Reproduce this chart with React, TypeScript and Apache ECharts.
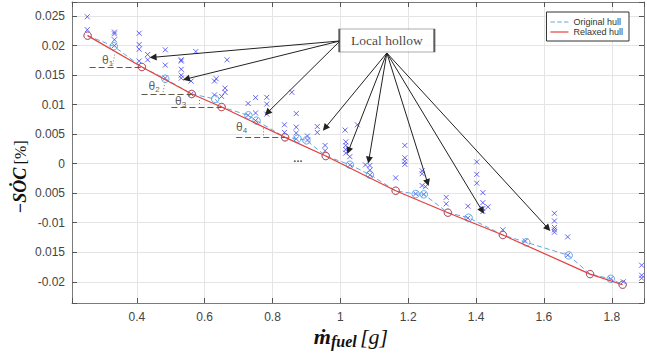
import React, { useEffect, useRef } from "react";
import * as echarts from "echarts";

// ---- data ----
const xTickValues = [0.4, 0.6, 0.8, 1.0, 1.2, 1.4, 1.6, 1.8];
const xTickLabels = ["0.4", "0.6", "0.8", "1", "1.2", "1.4", "1.6", "1.8"];
const yTickValues = [0.025, 0.02, 0.015, 0.01, 0.005, 0, -0.005, -0.01, -0.015, -0.02];
const yTickLabels = ["0.025", "0.02", "0.015", "0.01", "0.005", "0", "0.005", "-0.01", "0.015", "-0.02"];

const samplePoints: [number, number][] = [
  [0.254, 0.0249], [0.254, 0.0227],
  [0.334, 0.0223], [0.334, 0.022], [0.334, 0.021], [0.334, 0.02],
  [0.407, 0.0221], [0.407, 0.0202], [0.407, 0.0194], [0.407, 0.0174],
  [0.432, 0.0185], [0.432, 0.0176],
  [0.484, 0.0193], [0.484, 0.0167], [0.484, 0.0145],
  [0.531, 0.0176], [0.531, 0.0174], [0.531, 0.016], [0.531, 0.015], [0.531, 0.0145],
  [0.56, 0.014], [0.56, 0.0118],
  [0.574, 0.019],
  [0.629, 0.014], [0.629, 0.01165],
  [0.634, 0.0144],
  [0.65, 0.0114],
  [0.66, 0.0128], [0.66, 0.0121],
  [0.666, 0.0176],
  [0.728, 0.0102], [0.728, 0.0082],
  [0.75, 0.0112], [0.75, 0.0086], [0.75, 0.0073],
  [0.783, 0.01125], [0.783, 0.0101], [0.783, 0.0084],
  [0.857, 0.0121],
  [0.835, 0.0066], [0.835, 0.0053],
  [0.87, 0.0085], [0.87, 0.0062], [0.87, 0.0052], [0.87, 0.0042],
  [0.903, 0.0047], [0.903, 0.004],
  [0.932, 0.0063], [0.932, 0.0053],
  [0.955, 0.0031], [0.955, 0.0022],
  [1.014, 0.0057],
  [1.05, 0.0066],
  [1.016, 0.0037], [1.016, 0.0031], [1.016, 0.0024], [1.016, 0.0018],
  [1.028, 0.0012], [1.028, -0.0002],
  [1.074, -0.0002],
  [1.087, -0.0003], [1.087, -0.0011], [1.087, -0.0019],
  [1.19, 0.0031], [1.19, 0.001], [1.19, 0.0004], [1.19, -0.0001],
  [1.163, -0.0024],
  [1.241, -0.0012], [1.241, -0.0017], [1.241, -0.0037],
  [1.251, -0.0039],
  [1.222, -0.0051],
  [1.246, -0.0052],
  [1.312, -0.0057], [1.312, -0.0068],
  [1.376, -0.0072], [1.376, -0.0092],
  [1.402, 0.0003], [1.402, -0.0018], [1.402, -0.0033],
  [1.42, -0.0049], [1.42, -0.0066], [1.42, -0.0076], [1.42, -0.0081],
  [1.435, -0.0073],
  [1.479, -0.0112],
  [1.545, -0.0131],
  [1.631, -0.0084], [1.631, -0.0097], [1.631, -0.0108], [1.631, -0.0112], [1.631, -0.0116],
  [1.67, -0.0124], [1.67, -0.0155],
  [1.797, -0.0195],
  [1.834, -0.02],
  [1.888, -0.0172], [1.888, -0.0189], [1.888, -0.0194],
];

const originalHull: [number, number][] = [
  [0.255, 0.0217], [0.332, 0.0199], [0.415, 0.01639], [0.484, 0.0144], [0.562, 0.01181],
  [0.631, 0.01097], [0.65, 0.00961], [0.729, 0.0082], [0.753, 0.0073], [0.837, 0.00447],
  [0.874, 0.00424], [0.9, 0.00396], [0.957, 0.0013], [1.028, -0.00017], [1.087, -0.00186],
  [1.163, -0.00458], [1.222, -0.00514], [1.246, -0.00519], [1.317, -0.0083], [1.378, -0.00915],
  [1.479, -0.01208], [1.548, -0.01332], [1.673, -0.01553], [1.736, -0.0187], [1.797, -0.0195],
  [1.832, -0.0205],
];

const relaxedHull: [number, number][] = [
  [0.255, 0.0217], [0.415, 0.01639], [0.562, 0.01181], [0.65, 0.00961], [0.837, 0.00447],
  [0.957, 0.0013], [1.163, -0.00458], [1.317, -0.0083], [1.479, -0.01208], [1.736, -0.0187],
  [1.832, -0.0205],
];

// annotation anchors (data coordinates)
const hollowBoxCenter: [number, number] = [1.137, 0.02088];
const hollowLeftOrigin: [number, number] = [0.999, 0.0208];
const hollowBottomOrigin: [number, number] = [1.137, 0.01876];
const hollowTargetsLeft: [number, number][] = [[0.448, 0.01803], [0.546, 0.01436], [0.785, 0.00864]];
const hollowTargetsBottom: [number, number][] = [
  [0.955, 0.00605], [1.024, 0.0022], [1.084, 0.00063], [1.257, -0.00322], [1.418, -0.00797], [1.612, -0.01095],
];
// horizontal reference lines for slope angles: [xStart, xEnd, y]
const angleBaseLines: [number, number, number][] = [
  [0.261, 0.415, 0.01639],
  [0.414, 0.562, 0.01181],
  [0.502, 0.65, 0.00961],
  [0.693, 0.837, 0.00447],
];
const angleArcs: [number, number, number, number][] = [
  [0.335, 0.0185, 0.328, 0.0166],
  [0.483, 0.0138, 0.477, 0.012],
  [0.584, 0.0108, 0.584, 0.0098],
  [0.774, 0.006, 0.774, 0.0046],
];
const angleLabelPos: [number, number][] = [[0.314, 0.01758], [0.451, 0.01317], [0.529, 0.01071], [0.709, 0.00614]];
const angleSubscripts = ["1", "2", "3", "4"];
const ellipsisPos: [number, number] = [0.875, 0.00097];

const fmt = (vals: number[], labels: string[]) => (v: number) => {
  const i = vals.findIndex((t) => Math.abs(t - v) < 1e-9);
  return i >= 0 ? labels[i] : "";
};

export default function App() {
  const ref = useRef<HTMLDivElement>(null);
  useEffect(() => {
    if (!ref.current) return;
    const chart = echarts.init(ref.current, undefined, { renderer: "svg" });
    const axisColor = "#7a7a7a";
    const serif = "Liberation Serif, Times New Roman, serif";
    const labelStyle = { color: "#444", fontSize: 12, fontFamily: "Liberation Sans, Arial, sans-serif" };
    const xBase = { type: "value", min: 0.209, max: 1.895, minInterval: 0.2, maxInterval: 0.2 };
    const yBase = { type: "value", min: -0.0236, max: 0.0274, minInterval: 0.005, maxInterval: 0.005 };
    const hullBlue = "#3d9ae2";
    const hullLine = "#6aa6de";
    const red = "#e2403b";
    const option: any = {
      animation: false,
      backgroundColor: "#fff",
      grid: { left: 72, right: 2, top: 2, bottom: 55, containLabel: false },
      xAxis: [
        {
          ...xBase,
          position: "bottom",
          axisLine: { show: true, onZero: false, lineStyle: { color: axisColor } },
          axisTick: { show: true, inside: true, length: 5, lineStyle: { color: "#555" } },
          axisLabel: { ...labelStyle, margin: 8, formatter: fmt(xTickValues, xTickLabels) },
          splitLine: { show: true, lineStyle: { color: "#e4e4e4", width: 1 } },
        },
        {
          ...xBase,
          position: "top",
          axisLine: { show: true, onZero: false, lineStyle: { color: axisColor } },
          axisTick: { show: true, inside: true, length: 5, lineStyle: { color: "#555" } },
          axisLabel: { show: false },
          splitLine: { show: false },
        },
      ],
      yAxis: [
        {
          ...yBase,
          position: "left",
          axisLine: { show: true, onZero: false, lineStyle: { color: axisColor } },
          axisTick: { show: true, inside: true, length: 5, lineStyle: { color: "#555" } },
          axisLabel: { ...labelStyle, margin: 7, formatter: fmt(yTickValues, yTickLabels) },
          splitLine: { show: true, lineStyle: { color: "#e4e4e4", width: 1 } },
        },
        {
          ...yBase,
          position: "right",
          axisLine: { show: true, onZero: false, lineStyle: { color: axisColor } },
          axisTick: { show: true, inside: true, length: 5, lineStyle: { color: "#555" } },
          axisLabel: { show: false },
          splitLine: { show: false },
        },
      ],
      legend: {
        data: [
          {
            name: "Original hull",
            icon: "path://M0,0H4.5V1.2H0Z M6.75,0H11.25V1.2H6.75Z M13.5,0H18V1.2H13.5Z",
            itemStyle: { color: hullLine, borderWidth: 0 },
          },
          {
            name: "Relaxed hull",
            icon: "path://M0,0H18V1.2H0Z",
            itemStyle: { color: red, borderWidth: 0 },
          },
        ],
        orient: "vertical",
        right: 18,
        top: 12,
        itemWidth: 18,
        itemHeight: 1.2,
        itemGap: 0,
        padding: [5, 6, 4, 4],
        borderColor: "#333",
        borderWidth: 1,
        borderRadius: 0,
        backgroundColor: "#fff",
        textStyle: { fontSize: 9, color: "#333", fontFamily: "Liberation Sans, Arial, sans-serif", lineHeight: 10 },
      },
      graphic: [
        {
          type: "text",
          x: 20,
          y: 177,
          rotation: Math.PI / 2,
          style: {
            text: "{a|−SȮC} {b|[%]}",
            align: "center",
            verticalAlign: "middle",
            rich: {
              a: { fontSize: 18, fontWeight: "bold", fontStyle: "italic", fontFamily: serif, fill: "#111" },
              b: { fontSize: 16, fontFamily: serif, fill: "#111" },
            },
          },
        },
        {
          type: "text",
          x: 351,
          y: 336,
          style: {
            text: "{m|ṁ}{s|fuel} {g|[g]}",
            align: "center",
            verticalAlign: "middle",
            rich: {
              m: { fontSize: 22, fontWeight: "bold", fontStyle: "italic", fontFamily: serif, fill: "#111" },
              s: { fontSize: 16, fontWeight: "bold", fontStyle: "italic", fontFamily: serif, fill: "#111", padding: [10, 0, 0, 0] },
              g: { fontSize: 22, fontStyle: "italic", fontFamily: serif, fill: "#111" },
            },
          },
        },
      ],
      series: [
        {
          name: "samples",
          type: "scatter",
          data: samplePoints,
          symbol: "path://M0,0L10,10M10,0L0,10",
          symbolSize: 5,
          itemStyle: { color: "rgba(0,0,0,0)", borderColor: "#4040f0", borderWidth: 1 },
          z: 2,
        },
        {
          name: "Original hull",
          type: "line",
          data: originalHull,
          symbol: "none",
          lineStyle: { color: hullLine, width: 1, type: [5, 3] },
          itemStyle: { color: hullLine },
          z: 3,
        },
        {
          name: "origHullPts",
          type: "scatter",
          data: originalHull,
          symbol: "circle",
          symbolSize: 7.5,
          itemStyle: { color: "rgba(0,0,0,0)", borderColor: hullBlue, borderWidth: 1 },
          z: 3,
        },
        {
          name: "Relaxed hull",
          type: "line",
          data: relaxedHull,
          symbol: "none",
          lineStyle: { color: red, width: 1.2 },
          itemStyle: { color: red },
          z: 4,
        },
        {
          name: "relaxedPts",
          type: "scatter",
          data: relaxedHull,
          symbol: "circle",
          symbolSize: 7.5,
          itemStyle: { color: "rgba(0,0,0,0)", borderColor: red, borderWidth: 1 },
          z: 4,
        },
        {
          name: "angles",
          type: "scatter",
          data: angleLabelPos.map((p, i) => ({ value: p, name: angleSubscripts[i] })),
          symbolSize: 0,
          silent: true,
          z: 6,
          label: {
            show: true,
            position: "inside",
            formatter: (p: any) => `{t|θ}{s|${p.name}}`,
            rich: {
              t: { fontSize: 12, color: "#333", fontFamily: "Liberation Sans, Arial, sans-serif" },
              s: { fontSize: 8, color: "#333", fontFamily: "Liberation Sans, Arial, sans-serif", padding: [7, 0, 0, 0] },
            },
          },
          markLine: {
            silent: true,
            symbol: ["none", "none"],
            label: { show: false },
            lineStyle: { color: "#5e5a48", width: 1.2, type: [6, 3] },
            data: [
              ...angleBaseLines.map((l) => [{ coord: [l[0], l[2]] }, { coord: [l[1], l[2]] }]),
              ...angleArcs.map((a) => [
                { coord: [a[0], a[1]], lineStyle: { type: [1, 2], color: "#777", width: 1 } },
                { coord: [a[2], a[3]] },
              ]),
            ],
          },
        },
        {
          name: "ellipsis",
          type: "scatter",
          data: [{ value: ellipsisPos, name: "..." }],
          symbolSize: 0,
          silent: true,
          z: 6,
          label: { show: true, position: "inside", formatter: "...", fontSize: 11, color: "#222", fontWeight: "bold" },
        },
        {
          name: "hollow",
          type: "scatter",
          data: [hollowBoxCenter],
          symbol: "rect",
          symbolSize: [95, 23],
          silent: true,
          z: 8,
          itemStyle: { color: "#fff", borderColor: "#333", borderWidth: 1 },
          label: {
            show: true,
            position: "inside",
            formatter: "Local hollow",
            fontSize: 13.5,
            color: "#111",
            fontFamily: serif,
          },
          markLine: {
            silent: true,
            symbol: ["none", "triangle"],
            symbolSize: 7,
            label: { show: false },
            itemStyle: { color: "#111" },
            lineStyle: { color: "#222", width: 1, type: "solid" },
            data: [
              ...hollowTargetsLeft.map((t) => [{ coord: hollowLeftOrigin }, { coord: t }]),
              ...hollowTargetsBottom.map((t) => [{ coord: hollowBottomOrigin }, { coord: t }]),
            ],
          },
        },
      ],
    };
    chart.setOption(option);
    return () => chart.dispose();
  }, []);
  return (
    <div
      ref={ref}
      style={{ position: "fixed", left: 0, top: 0, width: 647, height: 358, background: "#fff" }}
    />
  );
}
